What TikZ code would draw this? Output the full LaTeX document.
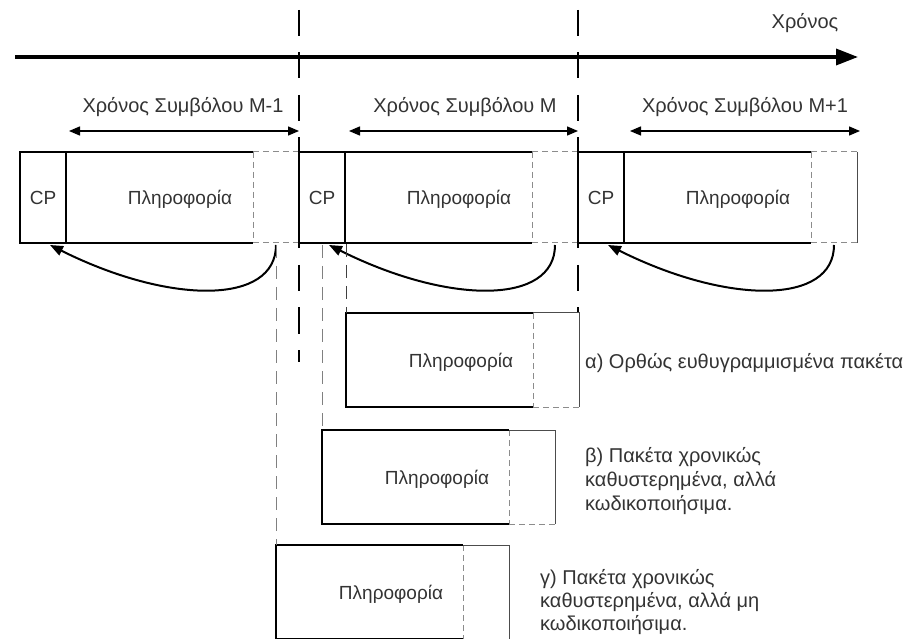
\documentclass[tikz,border=0pt]{standalone}
\usepackage{fontspec}
\setmainfont{Liberation Sans}
\usetikzlibrary{arrows.meta}
\begin{document}
\begin{tikzpicture}[x=1pt,y=-1pt,
  txt/.style={font=\fontsize{20}{24}\selectfont, text=black!80, inner sep=0pt},
  boxtxt/.style={font=\fontsize{19}{23}\selectfont, text=black!80, inner sep=0pt},
  thickline/.style={line width=2.6pt, black},
  thinsolid/.style={line width=1pt, black!70},
  tailline/.style={line width=1pt, black!45, dash pattern=on 6pt off 4pt},
  guide/.style={line width=1pt, black!50, dash pattern=on 13pt off 8pt},
  guidedark/.style={line width=1pt, black!75, dash pattern=on 13pt off 8pt},
  bound/.style={line width=2.5pt, black, dash pattern=on 26pt off 16.5pt},
  timearrow/.style={line width=3.5pt, black, -{Triangle[length=22pt,width=16pt]}},
  spanarrow/.style={line width=1.3pt, black, {Triangle[length=11pt,width=9pt]}-{Triangle[length=11pt,width=9pt]}},
  cparrow/.style={line width=2pt, black, -{Triangle[length=13pt,width=10pt]}},
]
\useasboundingbox (0,0) rectangle (911,639);

% time axis
\coordinate (t0) at (15,57);
\coordinate (t1) at (858,57);
\draw[timearrow] (t0) -- (t1);
\node[txt, anchor=base] (chronos) at (805,29) {Χρόνος};

% symbol boundaries
\coordinate (b1top) at (299,10);
\coordinate (b1bot) at (299,362);
\coordinate (b2top) at (578,10);
\coordinate (b2bot) at (578,313);
\draw[bound] (b1top) -- (b1bot);
\draw[bound] (b2top) -- (b2bot);

% symbol time labels and arrows
\node[txt, anchor=base] (lab1) at (183,113) {Χρόνος Συμβόλου M-1};
\node[txt, anchor=base] (lab2) at (465,113) {Χρόνος Συμβόλου M};
\node[txt, anchor=base] (lab3) at (745,113) {Χρόνος Συμβόλου M+1};
\coordinate (a1l) at (69,131);  \coordinate (a1r) at (299,131);
\coordinate (a2l) at (349,131); \coordinate (a2r) at (578,131);
\coordinate (a3l) at (630,131); \coordinate (a3r) at (860,131);
\draw[spanarrow] (a1l) -- (a1r);
\draw[spanarrow] (a2l) -- (a2r);
\draw[spanarrow] (a3l) -- (a3r);

% OFDM symbol strip
\foreach \s/\n in {20/1,299/2,578/3} {
  \draw[tailline] ({\s+233},152) -- ({\s+279},152);
  \draw[tailline] ({\s+233},243) -- ({\s+279},243);
  \draw[tailline] ({\s+233},152) -- ({\s+233},243);
  \draw[thickline] ({\s+233},152) -- (\s,152) -- (\s,243) -- ({\s+233},243);
  \draw[thickline] ({\s+46},152) -- ({\s+46},243);
  \node[boxtxt, anchor=base] (cp\n) at ({\s+23},205) {CP};
  \node[boxtxt, anchor=base] (info\n) at ({\s+160},205) {Πληροφορία};
  \coordinate (tail\n) at ({\s+256},245);
  \coordinate (tip\n) at ({\s+30},245);
}
\draw[thinsolid] (857,152) -- (857,243);

% cyclic prefix copy arrows
\draw[cparrow] (tail1) .. controls (276,305) and (170,305) .. (tip1);
\draw[cparrow] (tail2) .. controls (555,305) and (449,305) .. (tip2);
\draw[cparrow] (tail3) .. controls (834,305) and (728,305) .. (tip3);

% guide lines down to the received packets
\coordinate (g1) at (276,245);
\coordinate (g2) at (322,245);
\coordinate (g3) at (346,244);

% packet boxes
\foreach \x/\yt/\n in {346/313/a, 322/430/b, 276/545/c} {
  \draw[tailline] ({\x+187},{\yt+94}) -- ({\x+233},{\yt+94});
  \draw[tailline] ({\x+187},\yt) -- ({\x+187},{\yt+94});
  \draw[thinsolid] ({\x+187},\yt) -- ({\x+233},\yt) -- ({\x+233},{\yt+94});
  \draw[thickline] ({\x+187},\yt) -- (\x,\yt) -- (\x,{\yt+94}) -- ({\x+187},{\yt+94});
  \node[boxtxt, anchor=base] (pinfo\n) at ({\x+115},{\yt+54}) {Πληροφορία};
  \coordinate (corner\n) at (\x,\yt);
}
\draw[guide] (g1) -- (cornerc);
\draw[guide] (g2) -- (cornerb);
\draw[guidedark] (g3) -- (cornera);

% captions
\node[txt, anchor=base west] (capa) at (585,368) {α) Ορθώς ευθυγραμμισμένα πακέτα};
\node[txt, anchor=base west] (capb1) at (585,462) {β) Πακέτα χρονικώς};
\node[txt, anchor=base west] (capb2) at (585,486) {καθυστερημένα, αλλά};
\node[txt, anchor=base west] (capb3) at (585,510) {κωδικοποιήσιμα.};
\node[txt, anchor=base west] (capc1) at (540,584) {γ) Πακέτα χρονικώς};
\node[txt, anchor=base west] (capc2) at (540,607) {καθυστερημένα, αλλά μη};
\node[txt, anchor=base west] (capc3) at (540,630) {κωδικοποιήσιμα.};
\end{tikzpicture}
\end{document}
